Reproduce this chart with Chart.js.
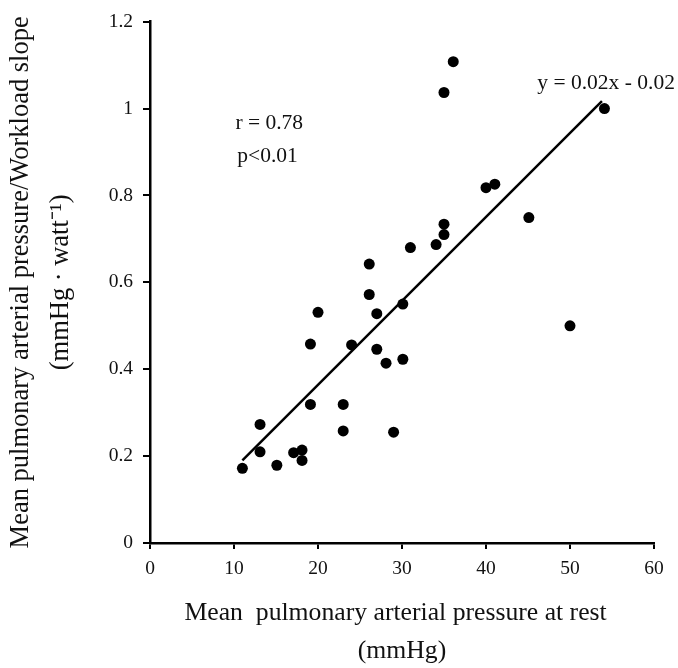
<!DOCTYPE html>
<html>
<head>
<meta charset="utf-8">
<script src="https://cdn.jsdelivr.net/npm/chart.js@4"></script>
<style>
html,body{margin:0;padding:0;background:#fff;}
#wrap{width:678px;height:668px;position:relative;}
canvas{display:block;}
</style>
</head>
<body>
<div id="wrap"><canvas id="c" width="678" height="668"></canvas></div>
<script>
// ---- data ----
const restPressure = [11, 13.1, 13.1, 15.1, 17.1, 18.1, 18.1, 19.1, 19.1, 20, 23, 23, 24, 26.1, 27, 27, 28.1, 29, 30.1, 30.1, 50,
                      36.1, 35, 54.1, 40, 41.05, 45.1, 35, 35, 34.06, 31, 26.1];
const workloadSlope = [0.172, 0.273, 0.21, 0.179, 0.208, 0.214, 0.19, 0.319, 0.458, 0.531, 0.319, 0.258, 0.456, 0.572, 0.528, 0.446, 0.414, 0.255, 0.55, 0.423, 0.5,
                       1.108, 1.037, 1.0, 0.818, 0.826, 0.749, 0.734, 0.71, 0.687, 0.68, 0.642];
const trendX = [11, 53.8];
const trendY = [0.19, 1.017];
const xTickValues = [0, 10, 20, 30, 40, 50, 60];
const yTickValues = [0, 0.2, 0.4, 0.6, 0.8, 1, 1.2];
const xTitle = ['Mean  pulmonary arterial pressure at rest  ', '(mmHg)'];
const yTitle = ['Mean pulmonary arterial pressure/Workload slope', '(mmHg \u00b7 watt\u207b\u00b9)'];
const noteTexts = ['r = 0.78', 'p<0.01', 'y = 0.02x - 0.02'];

// ---- layout / style ----
const SERIF = "'Liberation Serif', 'Times New Roman', serif";
const notePlacement = [
  {x: 14.2, y: 0.966},
  {x: 14.0, y: 0.891},
  {x: 54.3, y: 1.059}
];

const notePlugin = {
  id: 'notes',
  afterDatasetsDraw(chart, args, opts) {
    const {ctx} = chart;
    const xs = chart.scales.x, ys = chart.scales.y;
    ctx.save();
    ctx.font = opts.size + 'px ' + SERIF;
    ctx.fillStyle = opts.color;
    ctx.textAlign = 'center';
    ctx.textBaseline = 'middle';
    noteTexts.forEach((t, i) => {
      const p = notePlacement[i];
      ctx.fillText(t, xs.getPixelForValue(p.x), ys.getPixelForValue(p.y));
    });
    ctx.restore();
  }
};

const points = restPressure.map((v, i) => ({x: v, y: workloadSlope[i]}));
const trend = trendX.map((v, i) => ({x: v, y: trendY[i]}));

new Chart(document.getElementById('c'), {
  type: 'scatter',
  data: {
    datasets: [
      {
        type: 'line',
        data: trend,
        borderColor: '#000',
        borderWidth: 2.5,
        pointRadius: 0,
        fill: false,
        tension: 0
      },
      {
        type: 'scatter',
        data: points,
        backgroundColor: '#000',
        borderColor: '#000',
        borderWidth: 0,
        pointRadius: 5.5
      }
    ]
  },
  options: {
    responsive: false,
    devicePixelRatio: 1,
    animation: false,
    layout: {padding: {top: 17, right: 24, left: 0, bottom: 0}},
    plugins: {
      legend: {display: false},
      tooltip: {enabled: false},
      notes: {size: 21.5, color: '#111'}
    },
    scales: {
      x: {
        type: 'linear',
        min: 0, max: 60,
        afterFit(s) { s.height = 125; },
        afterBuildTicks(s) { s.ticks = xTickValues.map(v => ({value: v})); },
        ticks: {
          color: '#111',
          font: {family: SERIF, size: 19.5},
          padding: 8,
          maxRotation: 0,
          callback: v => String(v)
        },
        grid: {display: true, drawOnChartArea: false, drawTicks: true, tickLength: 6, color: '#000', lineWidth: 2},
        border: {display: true, color: '#000', width: 2.5},
        title: {
          display: true,
          text: xTitle,
          color: '#111',
          font: {family: SERIF, size: 25.7, lineHeight: 1.5},
          padding: {top: 0, bottom: -3}
        }
      },
      y: {
        type: 'linear',
        min: 0, max: 1.2,
        afterFit(s) { s.width = 150; },
        afterBuildTicks(s) { s.ticks = yTickValues.map(v => ({value: v})); },
        ticks: {
          color: '#111',
          font: {family: SERIF, size: 19.5},
          padding: 10,
          callback: v => String(Math.round(v * 10) / 10)
        },
        grid: {display: true, drawOnChartArea: false, drawTicks: true, tickLength: 7, color: '#000', lineWidth: 2},
        border: {display: true, color: '#000', width: 2.5},
        title: {
          display: true,
          text: yTitle,
          color: '#111',
          font: {family: SERIF, size: 26.5, lineHeight: 1.52},
          padding: {top: 1, bottom: 0}
        }
      }
    }
  },
  plugins: [notePlugin]
});
</script>
</body>
</html>
